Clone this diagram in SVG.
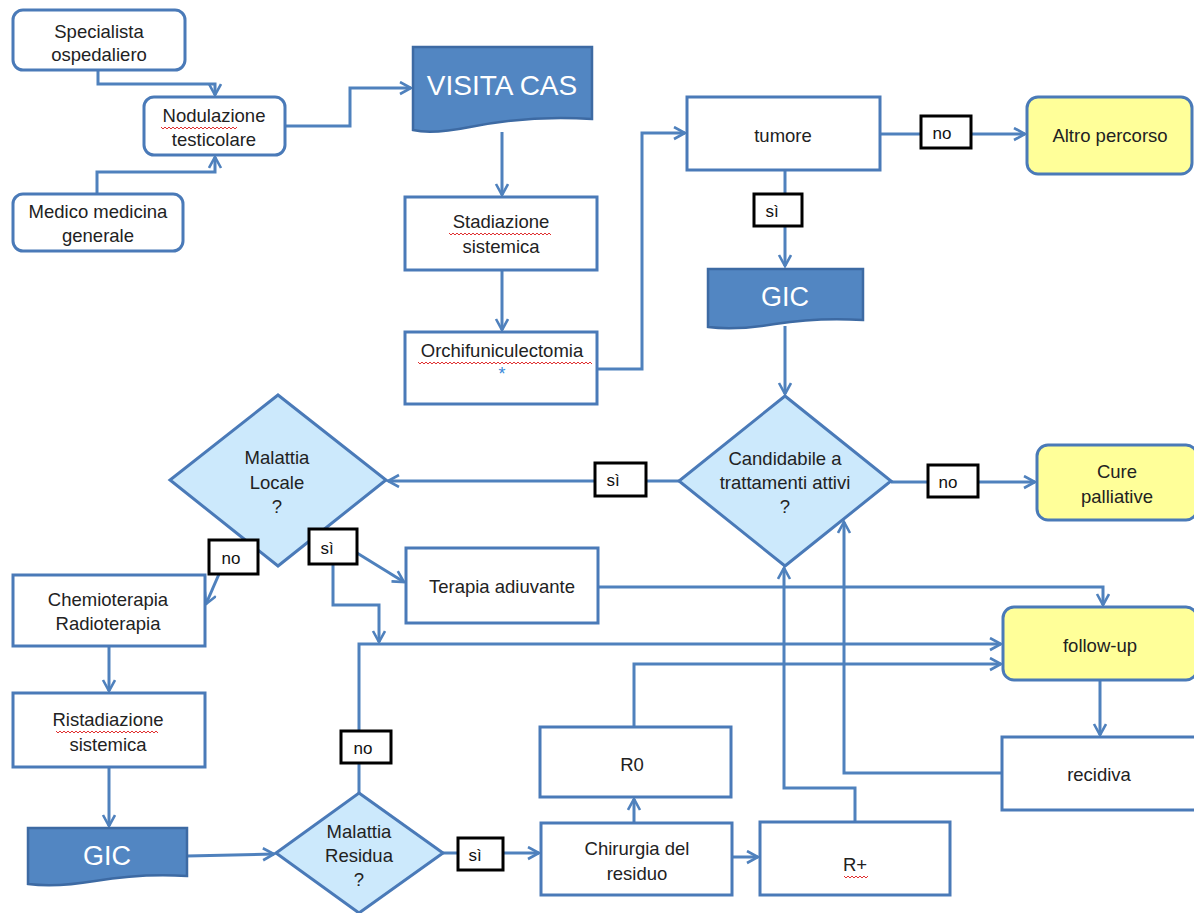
<svg xmlns="http://www.w3.org/2000/svg" width="1194" height="913" viewBox="0 0 1194 913">
<defs>
<marker id="arr" markerUnits="userSpaceOnUse" markerWidth="16" markerHeight="16" refX="12" refY="7" orient="auto">
<path d="M1,1 L12,7 L1,13" fill="none" stroke="#4f81bd" stroke-width="2.6"/>
</marker>
<style>
.box{fill:#fff;stroke:#4a7ab8;stroke-width:3}
.rbox{fill:#fff;stroke:#4a7ab8;stroke-width:3}
.yel{fill:#ffff99;stroke:#4a7ab8;stroke-width:3}
.dia{fill:#cce9fc;stroke:#4a7ab8;stroke-width:3}
.doc{fill:#5286c2;stroke:#3d6aa3;stroke-width:2.5}
.lbl{fill:#fff;stroke:#000;stroke-width:3}
.c{fill:none;stroke:#4f81bd;stroke-width:3}
.t{font-family:"Liberation Sans",Arial,sans-serif;font-size:18.5px;fill:#222;text-anchor:middle}
.tl{font-family:"Liberation Sans",Arial,sans-serif;font-size:17px;fill:#111;text-anchor:middle}
.tw{font-family:"Liberation Sans",Arial,sans-serif;fill:#fff;text-anchor:middle}
.sq{fill:none;stroke:#e03030;stroke-width:1}
</style>
</defs>
<rect width="1194" height="913" fill="#fff"/>

<g id="connectors">
<path class="c" d="M98,70 V84 H215 V95" marker-end="url(#arr)"/>
<path class="c" d="M97,194 V172 H215 V157" marker-end="url(#arr)"/>
<path class="c" d="M285,126 H350 V88 H411" marker-end="url(#arr)"/>
<path class="c" d="M502,132 V195" marker-end="url(#arr)"/>
<path class="c" d="M502,270 V330" marker-end="url(#arr)"/>
<path class="c" d="M597,369 H642 V133 H685" marker-end="url(#arr)"/>
<path class="c" d="M880,134 H1025" marker-end="url(#arr)"/>
<path class="c" d="M785,170 V266" marker-end="url(#arr)"/>
<path class="c" d="M785,326 V394" marker-end="url(#arr)"/>
<path class="c" d="M679,481 H388" marker-end="url(#arr)"/>
<path class="c" d="M891,482 H1035" marker-end="url(#arr)"/>
<path class="c" d="M219,574 L206,604" marker-end="url(#arr)"/>
<path class="c" d="M357,553 L404,582" marker-end="url(#arr)"/>
<path class="c" d="M333,564 V605 H379 V642" marker-end="url(#arr)"/>
<path class="c" d="M598,587 H1103 V605" marker-end="url(#arr)"/>
<path class="c" d="M359,793 V644 H1001" marker-end="url(#arr)"/>
<path class="c" d="M634,727 V664 H1001" marker-end="url(#arr)"/>
<path class="c" d="M1100,680 V735" marker-end="url(#arr)"/>
<path class="c" d="M1002,773 H844 V522" marker-end="url(#arr)"/>
<path class="c" d="M855,822 V788 H784 V568" marker-end="url(#arr)"/>
<path class="c" d="M109,646 V691" marker-end="url(#arr)"/>
<path class="c" d="M109,767 V826" marker-end="url(#arr)"/>
<path class="c" d="M187,856 L274,854" marker-end="url(#arr)"/>
<path class="c" d="M443,853 H539" marker-end="url(#arr)"/>
<path class="c" d="M634,823 V799" marker-end="url(#arr)"/>
<path class="c" d="M732,857 H758" marker-end="url(#arr)"/>
</g>

<g id="specialista">
<rect class="rbox" x="13" y="10" width="172" height="60" rx="10"/>
<text class="t" x="99" y="38">Specialista</text>
<text class="t" x="99" y="61">ospedaliero</text>
</g>
<g id="nodulazione">
<rect class="rbox" x="144" y="97" width="141" height="58" rx="10"/>
<text class="t" x="214" y="122">Nodulazione</text>
<text class="t" x="214" y="146">testicolare</text>
<path class="sq" d="M161,127 l2,2 l2,-2 l2,2 l2,-2 l2,2 l2,-2 l2,2 l2,-2 l2,2 l2,-2 l2,2 l2,-2 l2,2 l2,-2 l2,2 l2,-2 l2,2 l2,-2 l2,2 l2,-2 l2,2 l2,-2 l2,2 l2,-2 l2,2 l2,-2 l2,2 l2,-2 l2,2 l2,-2 l2,2 l2,-2 l2,2 l2,-2 l2,2 l2,-2 l2,2 l2,-2"/>
</g>
<g id="medico">
<rect class="rbox" x="13" y="194" width="170" height="57" rx="10"/>
<text class="t" x="98" y="218">Medico medicina</text>
<text class="t" x="98" y="242">generale</text>
</g>
<g id="visita">
<path class="doc" d="M413,47 H592 V119 C550,116 505,120 470,127 C445,132 425,133 413,130 Z"/>
<text class="tw" x="502" y="95" font-size="28">VISITA CAS</text>
</g>
<g id="stadiazione">
<rect class="box" x="405" y="197" width="192" height="73"/>
<text class="t" x="501" y="228">Stadiazione</text>
<text class="t" x="501" y="253">sistemica</text>
<path class="sq" d="M449,233 l2,2 l2,-2 l2,2 l2,-2 l2,2 l2,-2 l2,2 l2,-2 l2,2 l2,-2 l2,2 l2,-2 l2,2 l2,-2 l2,2 l2,-2 l2,2 l2,-2 l2,2 l2,-2 l2,2 l2,-2 l2,2 l2,-2 l2,2 l2,-2 l2,2 l2,-2 l2,2 l2,-2 l2,2 l2,-2 l2,2 l2,-2 l2,2 l2,-2 l2,2 l2,-2 l2,2 l2,-2 l2,2 l2,-2 l2,2 l2,-2 l2,2 l2,-2 l2,2 l2,-2 l2,2 l2,-2 l2,2"/>
</g>
<g id="orchi">
<rect class="box" x="405" y="332" width="192" height="72"/>
<text class="t" x="502" y="357">Orchifuniculectomia</text>
<text x="502" y="380" font-family="Liberation Sans,Arial,sans-serif" font-size="18" fill="#3a8ad8" text-anchor="middle">*</text>
<path class="sq" d="M418,362 l2,2 l2,-2 l2,2 l2,-2 l2,2 l2,-2 l2,2 l2,-2 l2,2 l2,-2 l2,2 l2,-2 l2,2 l2,-2 l2,2 l2,-2 l2,2 l2,-2 l2,2 l2,-2 l2,2 l2,-2 l2,2 l2,-2 l2,2 l2,-2 l2,2 l2,-2 l2,2 l2,-2 l2,2 l2,-2 l2,2 l2,-2 l2,2 l2,-2 l2,2 l2,-2 l2,2 l2,-2 l2,2 l2,-2 l2,2 l2,-2 l2,2 l2,-2 l2,2 l2,-2 l2,2 l2,-2 l2,2 l2,-2 l2,2 l2,-2 l2,2 l2,-2 l2,2 l2,-2 l2,2 l2,-2 l2,2 l2,-2 l2,2 l2,-2 l2,2 l2,-2 l2,2 l2,-2 l2,2 l2,-2 l2,2 l2,-2 l2,2 l2,-2 l2,2 l2,-2 l2,2 l2,-2 l2,2 l2,-2 l2,2 l2,-2 l2,2 l2,-2 l2,2 l2,-2 l2,2"/>
</g>
<g id="tumore">
<rect class="box" x="687" y="97" width="193" height="73"/>
<text class="t" x="783" y="142">tumore</text>
</g>
<g id="altro">
<rect class="yel" x="1027" y="97" width="165" height="77" rx="11"/>
<text class="t" x="1110" y="142">Altro percorso</text>
</g>
<g id="gic1">
<path class="doc" d="M708,269 H863 V320 C830,318 800,320 775,324 C745,329 725,329 708,327 Z"/>
<text class="tw" x="785" y="306" font-size="27">GIC</text>
</g>
<g id="candidabile">
<polygon class="dia" points="785,396 891,481 785,566 679,481"/>
<text class="t" x="785" y="465">Candidabile a</text>
<text class="t" x="785" y="489">trattamenti attivi</text>
<text class="t" x="785" y="513">?</text>
</g>
<g id="cure">
<rect class="yel" x="1037" y="445" width="160" height="75" rx="11"/>
<text class="t" x="1117" y="478">Cure</text>
<text class="t" x="1117" y="503">palliative</text>
</g>
<g id="locale">
<polygon class="dia" points="278,395 386,480 278,566 170,480"/>
<text class="t" x="277" y="464">Malattia</text>
<text class="t" x="277" y="489">Locale</text>
<text class="t" x="277" y="513">?</text>
</g>
<g id="terapia">
<rect class="box" x="406" y="548" width="192" height="75"/>
<text class="t" x="502" y="593">Terapia adiuvante</text>
</g>
<g id="followup">
<rect class="yel" x="1003" y="607" width="194" height="73" rx="11"/>
<text class="t" x="1100" y="652">follow-up</text>
</g>
<g id="recidiva">
<rect class="box" x="1002" y="737" width="195" height="73"/>
<text class="t" x="1099" y="781">recidiva</text>
</g>
<g id="chemio">
<rect class="box" x="13" y="575" width="192" height="71"/>
<text class="t" x="108" y="606">Chemioterapia</text>
<text class="t" x="108" y="630">Radioterapia</text>
</g>
<g id="ristadiazione">
<rect class="box" x="13" y="693" width="192" height="74"/>
<text class="t" x="108" y="726">Ristadiazione</text>
<text class="t" x="108" y="751">sistemica</text>
<path class="sq" d="M56,731 l2,2 l2,-2 l2,2 l2,-2 l2,2 l2,-2 l2,2 l2,-2 l2,2 l2,-2 l2,2 l2,-2 l2,2 l2,-2 l2,2 l2,-2 l2,2 l2,-2 l2,2 l2,-2 l2,2 l2,-2 l2,2 l2,-2 l2,2 l2,-2 l2,2 l2,-2 l2,2 l2,-2 l2,2 l2,-2 l2,2 l2,-2 l2,2 l2,-2 l2,2 l2,-2 l2,2 l2,-2 l2,2 l2,-2 l2,2 l2,-2 l2,2 l2,-2 l2,2 l2,-2 l2,2 l2,-2 l2,2"/>
</g>
<g id="gic2">
<path class="doc" d="M28,828 H187 V876 C155,874 125,876 95,881 C65,886 45,886 28,884 Z"/>
<text class="tw" x="107" y="865" font-size="27">GIC</text>
</g>
<g id="residua">
<polygon class="dia" points="359,793 443,853 359,913 276,853"/>
<text class="t" x="359" y="838">Malattia</text>
<text class="t" x="359" y="862">Residua</text>
<text class="t" x="359" y="886">?</text>
</g>
<g id="chirurgia">
<rect class="box" x="541" y="823" width="191" height="72"/>
<text class="t" x="637" y="855">Chirurgia del</text>
<text class="t" x="637" y="880">residuo</text>
</g>
<g id="r0">
<rect class="box" x="540" y="727" width="191" height="70"/>
<text class="t" x="632" y="771">R0</text>
</g>
<g id="rplus">
<rect class="box" x="760" y="822" width="190" height="73"/>
<text class="t" x="855" y="871">R+</text>
<path class="sq" d="M844,876 l2,2 l2,-2 l2,2 l2,-2 l2,2 l2,-2 l2,2 l2,-2 l2,2 l2,-2 l2,2 l2,-2"/>
</g>

<g id="labels">
<rect class="lbl" x="921" y="116" width="50" height="32"/>
<text class="tl" x="942" y="139">no</text>
<rect class="lbl" x="754" y="194" width="48" height="32"/>
<text class="tl" x="772" y="217">sì</text>
<rect class="lbl" x="595" y="463" width="51" height="33"/>
<text class="tl" x="613" y="486">sì</text>
<rect class="lbl" x="928" y="465" width="50" height="32"/>
<text class="tl" x="948" y="488">no</text>
<rect class="lbl" x="209" y="540" width="49" height="34"/>
<text class="tl" x="231" y="564">no</text>
<rect class="lbl" x="309" y="529" width="48" height="35"/>
<text class="tl" x="327" y="554">sì</text>
<rect class="lbl" x="341" y="731" width="50" height="32"/>
<text class="tl" x="363" y="754">no</text>
<rect class="lbl" x="458" y="838" width="45" height="32"/>
<text class="tl" x="475" y="861">sì</text>
</g>
</svg>
